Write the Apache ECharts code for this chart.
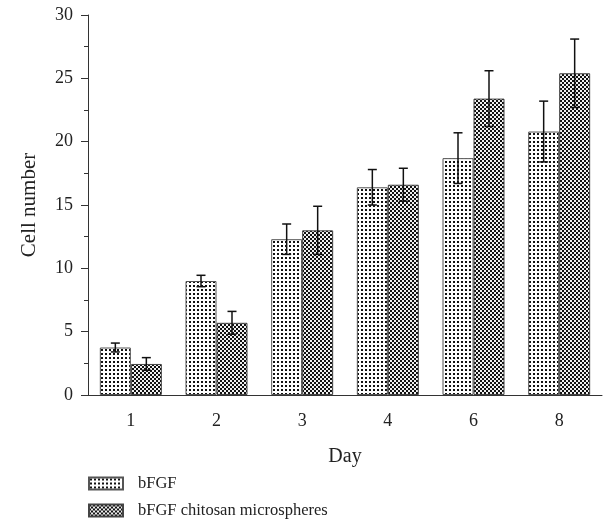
<!DOCTYPE html>
<html>
<head>
<meta charset="utf-8">
<script src="https://cdn.jsdelivr.net/npm/echarts@6/dist/echarts.min.js"></script>
<style>
  html, body { margin: 0; padding: 0; background: #fff; }
  #chart { width: 612px; height: 529px; }
</style>
</head>
<body>
<div id="chart"></div>
<script>
const days = ['1', '2', '3', '4', '6', '8']
const bfgf = [3.75, 9.0, 12.3, 16.4, 18.7, 20.8]
const bfgfErr = [0.35, 0.45, 1.2, 1.4, 2.0, 2.4]
const chito = [2.45, 5.7, 13.0, 16.6, 23.4, 25.4]
const chitoErr = [0.5, 0.9, 1.9, 1.3, 2.2, 2.7]
const seriesNames = ['bFGF', 'bFGF chitosan microspheres']

const FONT = 'Liberation Serif'
const BAR_W = 31

// dotted fill
function dotPattern() {
  const c = document.createElement('canvas')
  c.width = 4
  c.height = 4
  const ctx = c.getContext('2d')
  ctx.fillStyle = '#fff'
  ctx.fillRect(0, 0, 4, 4)
  ctx.fillStyle = '#111'
  ctx.fillRect(1, 1, 2, 2)
  return c
}

// checker fill
function checkPattern() {
  const c = document.createElement('canvas')
  c.width = 4
  c.height = 4
  const ctx = c.getContext('2d')
  ctx.fillStyle = '#f0f0f0'
  ctx.fillRect(0, 0, 4, 4)
  ctx.fillStyle = '#111'
  ctx.fillRect(0, 0, 2, 2)
  ctx.fillRect(2, 2, 2, 2)
  return c
}

function errorData(vals, errs) {
  return vals.map((v, i) => [i, v - errs[i], v + errs[i]])
}

function errorSeries(vals, errs, side) {
  return {
    type: 'custom',
    xAxisIndex: 0,
    data: errorData(vals, errs),
    z: 10,
    silent: true,
    renderItem(params, api) {
      const lo = api.coord([api.value(0), api.value(1)])
      const hi = api.coord([api.value(0), api.value(2)])
      const x = lo[0] + side * BAR_W / 2
      const cap = 4.5
      const style = { stroke: '#111', lineWidth: 1.5 }
      return {
        type: 'group',
        children: [
          { type: 'line', shape: { x1: x, y1: lo[1], x2: x, y2: hi[1] }, style },
          { type: 'line', shape: { x1: x - cap, y1: hi[1], x2: x + cap, y2: hi[1] }, style },
          { type: 'line', shape: { x1: x - cap, y1: lo[1], x2: x + cap, y2: lo[1] }, style }
        ]
      }
    }
  }
}

function legendAt(name, top) {
  return {
    orient: 'vertical',
    left: 88,
    top: top,
    padding: 0,
    icon: 'rect',
    itemWidth: 34,
    itemHeight: 12,
    textStyle: { fontFamily: FONT, fontSize: 16.5, color: '#222', padding: [0, 0, 0, 10] },
    data: [name]
  }
}

const chart = echarts.init(document.getElementById('chart'))
const dotFill = { image: dotPattern(), repeat: 'repeat' }
const checkFill = { image: checkPattern(), repeat: 'repeat' }

const option = {
  backgroundColor: '#fff',
  animation: false,
  textStyle: { fontFamily: FONT, color: '#222' },
  grid: { left: 88, right: 10, top: 15, bottom: 134 },
  legend: [legendAt(seriesNames[0], 475), legendAt(seriesNames[1], 502)],
  xAxis: [
    {
      type: 'category',
      data: days,
      name: 'Day',
      nameLocation: 'middle',
      nameGap: 52,
      nameTextStyle: { fontFamily: FONT, fontSize: 20, color: '#222' },
      axisLine: { lineStyle: { color: '#333', width: 1 } },
      axisTick: { alignWithLabel: true, length: 8, lineStyle: { color: '#333' } },
      axisLabel: { fontFamily: FONT, fontSize: 18, color: '#222', margin: 17 }
    },
    {
      type: 'category',
      data: days,
      position: 'bottom',
      axisLine: { show: false },
      axisTick: { length: 4, lineStyle: { color: '#333' } },
      axisLabel: { show: false }
    }
  ],
  yAxis: {
    type: 'value',
    min: 0,
    max: 30,
    interval: 5,
    name: 'Cell number',
    nameLocation: 'middle',
    nameGap: 48,
    nameTextStyle: { fontFamily: FONT, fontSize: 21, color: '#222' },
    axisLine: { show: true, lineStyle: { color: '#333', width: 1 } },
    axisTick: { show: true, length: 7, lineStyle: { color: '#333' } },
    minorTick: { show: true, splitNumber: 2, length: 4, lineStyle: { color: '#333' } },
    splitLine: { show: false },
    axisLabel: { fontFamily: FONT, fontSize: 18, color: '#222', margin: 15 }
  },
  series: [
    {
      name: seriesNames[0],
      type: 'bar',
      data: bfgf,
      barWidth: BAR_W,
      barGap: '0%',
      itemStyle: { color: dotFill, borderColor: '#555', borderWidth: 1 }
    },
    {
      name: seriesNames[1],
      type: 'bar',
      data: chito,
      barWidth: BAR_W,
      barGap: '0%',
      itemStyle: { color: checkFill, borderColor: '#444', borderWidth: 1 }
    },
    errorSeries(bfgf, bfgfErr, -1),
    errorSeries(chito, chitoErr, 1)
  ]
}

chart.setOption(option)
</script>
</body>
</html>
